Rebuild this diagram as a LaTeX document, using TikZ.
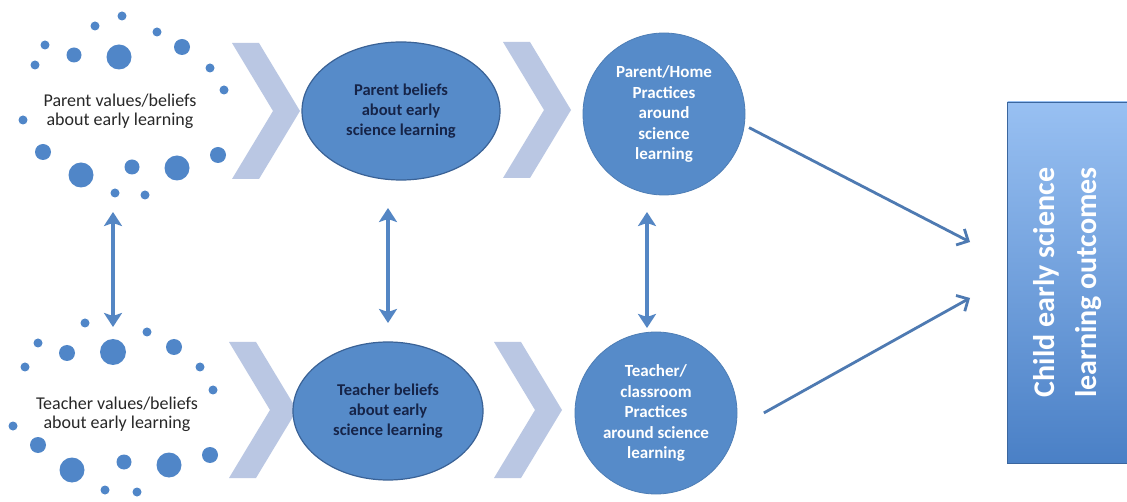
\documentclass[tikz,border=0pt]{standalone}
\usepackage{fontspec}
\setmainfont{Carlito}
\usetikzlibrary{arrows.meta,shapes.geometric}
\definecolor{dotblue}{RGB}{80,134,200}
\definecolor{ellfill}{RGB}{86,139,201}
\definecolor{ellline}{RGB}{58,98,150}
\definecolor{chevcol}{RGB}{186,199,227}
\definecolor{arrcol}{RGB}{84,134,196}
\definecolor{diagcol}{RGB}{78,122,178}
\definecolor{boxtop}{RGB}{152,192,242}
\definecolor{boxbot}{RGB}{74,128,198}
\definecolor{darktext}{RGB}{40,40,40}
\definecolor{navytext}{RGB}{22,36,72}
\tikzset{
  clusterlabel/.style={align=center, text=darktext, font=\fontsize{18}{19}\selectfont, inner sep=0pt},
  beliefell/.style={ellipse, draw=ellline, line width=1.2pt, fill=ellfill, inner sep=0pt,
     align=center, text=navytext, font=\bfseries\fontsize{16.5}{20}\selectfont},
  practcircle/.style={circle, fill=ellfill, draw=ellfill!90!black, line width=0.8pt, minimum size=162pt, inner sep=0pt,
     align=center, text=white, font=\bfseries\fontsize{17}{20.5}\selectfont},
  chev/.style={fill=chevcol},
  dot/.style={fill=dotblue},
  bothway/.style={arrcol, line width=3.5pt, {Stealth[width=18pt,length=14pt,inset=3pt]}-{Stealth[width=18pt,length=14pt,inset=3pt]}},
  toward/.style={diagcol, line width=2.8pt, -{Straight Barb[width=18pt,length=9pt]}}
}
\begin{document}
\begin{tikzpicture}[x=1pt,y=-1pt]
\useasboundingbox[fill=white] (0,0) rectangle (1127,502);

% chevrons
\foreach \cx/\cy in {232/111, 503/110, 229/410, 494/410}
  \fill[chev] (\cx,\cy) ++(0,-68) -- ++(27,0) -- ++(41,68) -- ++(-41,68) -- ++(-27,0) -- ++(41,-68) -- cycle;

% top-left dot cluster
\foreach \x/\y/\r in {122/16/4.5, 95/26/4.5, 157/32/4.5, 45/45/4.5, 74/55/7.5, 119/57/12.5, 182/47/8,
  35/65/4.5, 210/68/4.5, 224/90/4.5, 23/120/4.5, 43/152/8, 81/175/12.5, 132/167/7.5, 177/168/12.5,
  218/155/8, 115/193/4.5, 145/195/4.5}
  \fill[dot] (\x,\y) circle[radius=\r pt];
\node[clusterlabel] (pv) at (120,111) {Parent values/beliefs\\about early learning};

% bottom-left dot cluster
\foreach \x/\y/\r in {85/323/4.5, 147/332/4.5, 38/343/4.5, 67/353/8, 113/352/13, 174/347/8,
  25/367/4.5, 200/367/4.5, 213/390/4.5, 13/426/4.5, 38/445/8, 72/470/12.5, 124/462/7.5,
  169/465/12.5, 210/455/8, 105/490/4.5, 137/492/4.5}
  \fill[dot] (\x,\y) circle[radius=\r pt];
\node[clusterlabel] (tv) at (117,414) {Teacher values/beliefs\\about early learning};

% belief ellipses
\node[beliefell, minimum width=198pt, minimum height=138pt] (pb) at (401,111)
  {Parent beliefs\\about early\\science learning};
\node[beliefell, minimum width=190pt, minimum height=138pt] (tb) at (388,411)
  {Teacher beliefs\\about early\\science learning};

% practice circles
\node[practcircle] (pc) at (664,114) {Parent/Home\\Practices\\around\\science\\learning};
\node[practcircle] (tc) at (656,413) {Teacher/\\classroom\\Practices\\around science\\learning};

% outcome box
\node[minimum width=120pt, minimum height=361pt, inner sep=0pt, top color=boxtop, bottom color=boxbot,
  draw=boxbot!80!black, line width=0.5pt] (child) at (1067.5,282.5) {};
\node[rotate=90, align=center, text=white, font=\bfseries\fontsize{30}{42}\selectfont] (childtext) at (child)
  {Child early science\\learning outcomes};

% vertical two-way arrows
\coordinate (l1) at (113,212); \coordinate (l2) at (113,327);
\coordinate (m1) at (388,208); \coordinate (m2) at (388,323);
\coordinate (r1) at (647,212); \coordinate (r2) at (647,328);
\draw[bothway] (l1) -- (l2);
\draw[bothway] (m1) -- (m2);
\draw[bothway] (r1) -- (r2);

% diagonal arrows toward outcome box
\coordinate (e1) at (970,242);
\coordinate (e2) at (970,298);
\draw[toward, shorten <=5pt] (pc.-8) -- (e1);
\draw[toward, shorten <=32pt] (tc.-11) -- (e2);
\end{tikzpicture}
\end{document}
